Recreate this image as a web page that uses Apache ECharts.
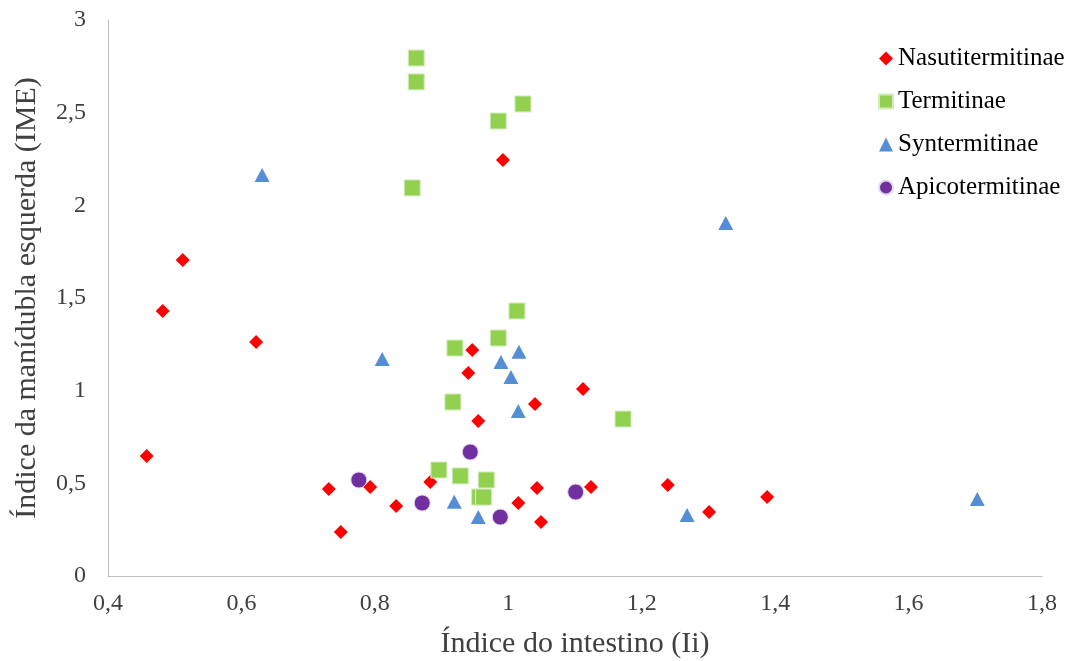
<!DOCTYPE html>
<html>
<head>
<meta charset="utf-8">
<script src="https://cdn.jsdelivr.net/npm/echarts@6/dist/echarts.min.js"></script>
<style>html,body{margin:0;padding:0;background:#fff}#c{width:1072px;height:661px}</style>
</head>
<body>
<div id="c"></div>
<script>
const seriesNames = ["Nasutitermitinae", "Termitinae", "Syntermitinae", "Apicotermitinae"];
const nasutitermitinae = [
  [0.458, 0.648], [0.482, 1.43], [0.512, 1.705], [0.622, 1.263], [0.731, 0.47],
  [0.749, 0.237], [0.793, 0.48], [0.832, 0.378], [0.883, 0.507], [0.946, 1.22],
  [0.940, 1.095], [0.955, 0.836], [0.992, 2.245], [1.015, 0.394], [1.040, 0.928],
  [1.043, 0.475], [1.049, 0.291], [1.112, 1.009], [1.124, 0.48], [1.239, 0.491],
  [1.301, 0.345], [1.388, 0.426]
];
const termitinae = [
  [0.862, 2.795], [0.862, 2.666], [0.856, 2.094], [0.985, 2.455], [1.022, 2.547],
  [1.013, 1.43], [0.985, 1.284], [0.920, 1.23], [0.917, 0.939], [1.172, 0.847],
  [0.896, 0.572], [0.928, 0.540], [0.967, 0.518], [0.957, 0.426], [0.963, 0.426]
];
const syntermitinae = [
  [0.631, 2.164], [1.326, 1.905], [0.811, 1.171], [1.016, 1.21], [0.989, 1.155],
  [1.004, 1.074], [1.015, 0.890], [0.919, 0.40], [0.955, 0.318], [1.268, 0.329],
  [1.703, 0.415]
];
const apicotermitinae = [
  [0.776, 0.518], [0.871, 0.394], [0.943, 0.669], [0.988, 0.318], [1.101, 0.453]
];
const xTitle = "Índice do intestino (Ii)";
const yTitle = "Índice da manídubla esquerda (IME)";

const font = "'Liberation Serif', 'Times New Roman', serif";
const chart = echarts.init(document.getElementById('c'), null, {renderer: 'canvas'});
const fmt = v => String(Math.round(v * 10) / 10).replace('.', ',');
chart.setOption({
  animation: false,
  backgroundColor: '#fff',
  grid: {left: 108, right: 30, top: 20, bottom: 85, containLabel: false, outerBoundsMode: 'none'},
  legend: {
    orient: 'vertical', left: 873, top: 41, itemGap: 18,
    itemWidth: 14, itemHeight: 14, itemStyle: {opacity: 1},
    textStyle: {fontFamily: font, fontSize: 25, color: '#000'},
    data: seriesNames
  },
  xAxis: {
    type: 'value', min: 0.4, max: 1.8, interval: 0.2,
    name: xTitle, nameLocation: 'middle', nameGap: 53,
    nameTextStyle: {fontFamily: font, fontSize: 30, color: '#404040'},
    axisLine: {show: true, lineStyle: {color: '#bfbfbf', width: 1}},
    axisTick: {show: false}, splitLine: {show: false},
    axisLabel: {fontFamily: font, fontSize: 24, color: '#404040', margin: 16, formatter: fmt}
  },
  yAxis: {
    type: 'value', min: 0, max: 3, interval: 0.5,
    name: yTitle, nameLocation: 'middle', nameGap: 66,
    nameTextStyle: {fontFamily: font, fontSize: 30, color: '#404040'},
    axisLine: {show: true, lineStyle: {color: '#bfbfbf', width: 1}},
    axisTick: {show: false}, splitLine: {show: false},
    axisLabel: {fontFamily: font, fontSize: 24, color: '#404040', margin: 22, formatter: fmt}
  },
  series: [
    {name: seriesNames[0], type: 'scatter', data: nasutitermitinae, symbol: 'diamond', symbolSize: [14, 14],
     itemStyle: {color: '#ff0000', opacity: 1}},
    {name: seriesNames[1], type: 'scatter', data: termitinae, symbol: 'rect', symbolSize: 16,
     itemStyle: {color: '#92d050', borderColor: '#d4ecbc', borderWidth: 1, opacity: 1}},
    {name: seriesNames[2], type: 'scatter', data: syntermitinae, symbol: 'triangle', symbolSize: [15, 14],
     itemStyle: {color: '#558ed5', opacity: 1}},
    {name: seriesNames[3], type: 'scatter', data: apicotermitinae, symbol: 'circle', symbolSize: 16,
     itemStyle: {color: '#7030a0', borderColor: '#e6d6f0', borderWidth: 1, opacity: 1}}
  ]
});
</script>
</body>
</html>
